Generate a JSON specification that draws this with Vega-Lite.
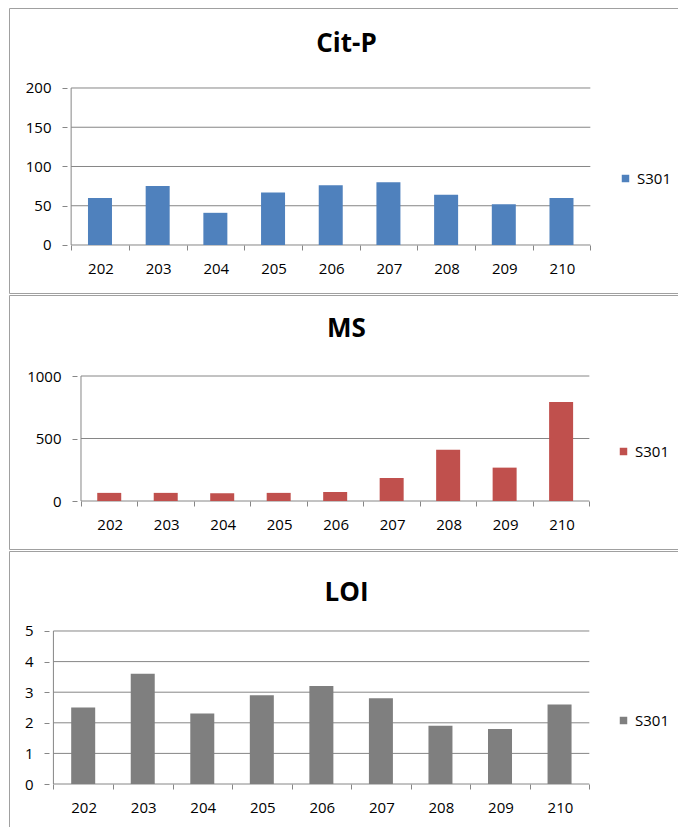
{
  "$schema": "https://vega.github.io/schema/vega-lite/v6.json",
  "padding": {"left": 8, "top": 7, "right": 0, "bottom": 0},
  "spacing": 0,
  "datasets": {
    "citp": [
      {"cat": 202, "value": 60, "series": "S301"},
      {"cat": 203, "value": 75, "series": "S301"},
      {"cat": 204, "value": 41, "series": "S301"},
      {"cat": 205, "value": 67, "series": "S301"},
      {"cat": 206, "value": 76, "series": "S301"},
      {"cat": 207, "value": 80, "series": "S301"},
      {"cat": 208, "value": 64, "series": "S301"},
      {"cat": 209, "value": 52, "series": "S301"},
      {"cat": 210, "value": 60, "series": "S301"}
    ],
    "ms": [
      {"cat": 202, "value": 65, "series": "S301"},
      {"cat": 203, "value": 65, "series": "S301"},
      {"cat": 204, "value": 62, "series": "S301"},
      {"cat": 205, "value": 65, "series": "S301"},
      {"cat": 206, "value": 72, "series": "S301"},
      {"cat": 207, "value": 184, "series": "S301"},
      {"cat": 208, "value": 411, "series": "S301"},
      {"cat": 209, "value": 267, "series": "S301"},
      {"cat": 210, "value": 792, "series": "S301"}
    ],
    "loi": [
      {"cat": 202, "value": 2.5, "series": "S301"},
      {"cat": 203, "value": 3.6, "series": "S301"},
      {"cat": 204, "value": 2.3, "series": "S301"},
      {"cat": 205, "value": 2.9, "series": "S301"},
      {"cat": 206, "value": 3.2, "series": "S301"},
      {"cat": 207, "value": 2.8, "series": "S301"},
      {"cat": 208, "value": 1.9, "series": "S301"},
      {"cat": 209, "value": 1.8, "series": "S301"},
      {"cat": 210, "value": 2.6, "series": "S301"}
    ],
    "gridCitP": [{"v": 0}, {"v": 50}, {"v": 100}, {"v": 150}, {"v": 200}],
    "gridMS": [{"v": 0}, {"v": 500}, {"v": 1000}],
    "gridLOI": [{"v": 0}, {"v": 1}, {"v": 2}, {"v": 3}, {"v": 4}, {"v": 5}]
  },
  "resolve": {
    "scale": {"x": "independent", "y": "independent", "color": "independent"},
    "legend": {"color": "independent"}
  },
  "vconcat": [
    {
      "width": 675,
      "height": 285,
      "title": {"text": "Cit-P", "fontSize": 26, "fontWeight": "bold", "font": "Open Sans", "color": "#000000", "anchor": "middle", "frame": "group", "baseline": "middle", "offset": -62},
      "layer": [
        {
          "data": {"name": "gridCitP"},
          "mark": {"type": "rule", "color": "#868686", "strokeWidth": 1},
          "encoding": {
            "y": {"field": "v", "type": "quantitative"},
            "x": {"datum": 201.5, "type": "quantitative"},
            "x2": {"datum": 210.5}
          }
        },
        {
          "data": {"name": "citp"},
          "mark": {"type": "bar", "width": 24},
          "encoding": {
            "x": {"field": "cat", "type": "quantitative",
              "scale": {"domain": [200.5095, 212.037], "nice": false, "zero": false},
              "axis": {"title": null, "values": [201.5, 202.5, 203.5, 204.5, 205.5, 206.5, 207.5, 208.5, 209.5, 210.5], "offset": -48, "labelOffset": 29.3, "labelPadding": 11, "labelExpr": "datum.value < 210 ? format(datum.value + 0.5, 'd') : ''"}},
            "y": {"field": "value", "type": "quantitative",
              "scale": {"domain": [-61.15, 301.91], "nice": false, "zero": false},
              "axis": {"title": null, "values": [0, 50, 100, 150, 200], "format": "d", "offset": -58, "labelPadding": 11}},
            "y2": {"datum": 0},
            "color": {"field": "series", "type": "nominal", "scale": {"range": ["#4F81BD"]},
              "legend": {"orient": "none", "legendX": 609, "legendY": 163, "title": null}}
          }
        },
        {
          "data": {"values": [{"k": 1}]},
          "mark": {"type": "rule", "color": "#868686", "strokeWidth": 1},
          "encoding": {
            "x": {"datum": 201.5, "type": "quantitative"},
            "y": {"datum": 0, "type": "quantitative"},
            "y2": {"datum": 200}
          }
        }
      ]
    },
    {
      "width": 675,
      "height": 254,
      "title": {"text": "MS", "fontSize": 26, "fontWeight": "bold", "font": "Open Sans", "color": "#000000", "anchor": "middle", "frame": "group", "baseline": "middle", "offset": -60},
      "layer": [
        {
          "data": {"name": "gridMS"},
          "mark": {"type": "rule", "color": "#868686", "strokeWidth": 1},
          "encoding": {
            "y": {"field": "v", "type": "quantitative"},
            "x": {"datum": 201.5, "type": "quantitative"},
            "x2": {"datum": 210.5}
          }
        },
        {
          "data": {"name": "ms"},
          "mark": {"type": "bar", "width": 24},
          "encoding": {
            "x": {"field": "cat", "type": "quantitative",
              "scale": {"domain": [200.314, 212.087], "nice": false, "zero": false},
              "axis": {"title": null, "values": [201.5, 202.5, 203.5, 204.5, 205.5, 206.5, 207.5, 208.5, 209.5, 210.5], "offset": -48, "labelOffset": 28.7, "labelPadding": 11, "labelExpr": "datum.value < 210 ? format(datum.value + 0.5, 'd') : ''"}},
            "y": {"field": "value", "type": "quantitative",
              "scale": {"domain": [-384, 1648], "nice": false, "zero": false},
              "axis": {"title": null, "values": [0, 500, 1000], "format": "d", "offset": -68, "labelPadding": 11}},
            "y2": {"datum": 0},
            "color": {"field": "series", "type": "nominal", "scale": {"range": ["#C0504D"]},
              "legend": {"orient": "none", "legendX": 607, "legendY": 149, "title": null}}
          }
        },
        {
          "data": {"values": [{"k": 1}]},
          "mark": {"type": "rule", "color": "#868686", "strokeWidth": 1},
          "encoding": {
            "x": {"datum": 201.5, "type": "quantitative"},
            "y": {"datum": 0, "type": "quantitative"},
            "y2": {"datum": 1000}
          }
        }
      ]
    },
    {
      "width": 675,
      "height": 276,
      "title": {"text": "LOI", "fontSize": 26, "fontWeight": "bold", "font": "Open Sans", "color": "#000000", "anchor": "middle", "frame": "group", "baseline": "middle", "offset": -68},
      "layer": [
        {
          "data": {"name": "gridLOI"},
          "mark": {"type": "rule", "color": "#868686", "strokeWidth": 1},
          "encoding": {
            "y": {"field": "v", "type": "quantitative"},
            "x": {"datum": 201.5, "type": "quantitative"},
            "x2": {"datum": 210.5}
          }
        },
        {
          "data": {"name": "loi"},
          "mark": {"type": "bar", "width": 24},
          "encoding": {
            "x": {"field": "cat", "type": "quantitative",
              "scale": {"domain": [200.838, 212.006], "nice": false, "zero": false},
              "axis": {"title": null, "values": [201.5, 202.5, 203.5, 204.5, 205.5, 206.5, 207.5, 208.5, 209.5, 210.5], "offset": -43, "labelOffset": 30.2, "labelPadding": 11, "labelExpr": "datum.value < 210 ? format(datum.value + 0.5, 'd') : ''"}},
            "y": {"field": "value", "type": "quantitative",
              "scale": {"domain": [-1.405, 7.614], "nice": false, "zero": false},
              "axis": {"title": null, "values": [0, 1, 2, 3, 4, 5], "format": "d", "offset": -40, "labelPadding": 11}},
            "y2": {"datum": 0},
            "color": {"field": "series", "type": "nominal", "scale": {"range": ["#7F7F7F"]},
              "legend": {"orient": "none", "legendX": 607, "legendY": 162, "title": null}}
          }
        },
        {
          "data": {"values": [{"k": 1}]},
          "mark": {"type": "rule", "color": "#868686", "strokeWidth": 1},
          "encoding": {
            "x": {"datum": 201.5, "type": "quantitative"},
            "y": {"datum": 0, "type": "quantitative"},
            "y2": {"datum": 5}
          }
        }
      ]
    }
  ],
  "config": {
    "view": {"stroke": "#a0a0a0", "strokeWidth": 1},
    "font": "Open Sans",
    "axis": {
      "labelFont": "Open Sans",
      "labelFontSize": 15,
      "labelColor": "#000000",
      "tickColor": "#868686",
      "tickSize": 5,
      "tickWidth": 1,
      "domain": false,
      "grid": false,
      "labelOverlap": false,
      "labelFlush": false,
      "labelBound": false
    },
    "legend": {
      "symbolType": "square",
      "symbolSize": 56,
      "symbolStrokeWidth": 0,
      "labelFont": "Open Sans",
      "labelFontSize": 15,
      "labelColor": "#000000",
      "padding": 0,
      "labelOffset": 4
    }
  }
}
